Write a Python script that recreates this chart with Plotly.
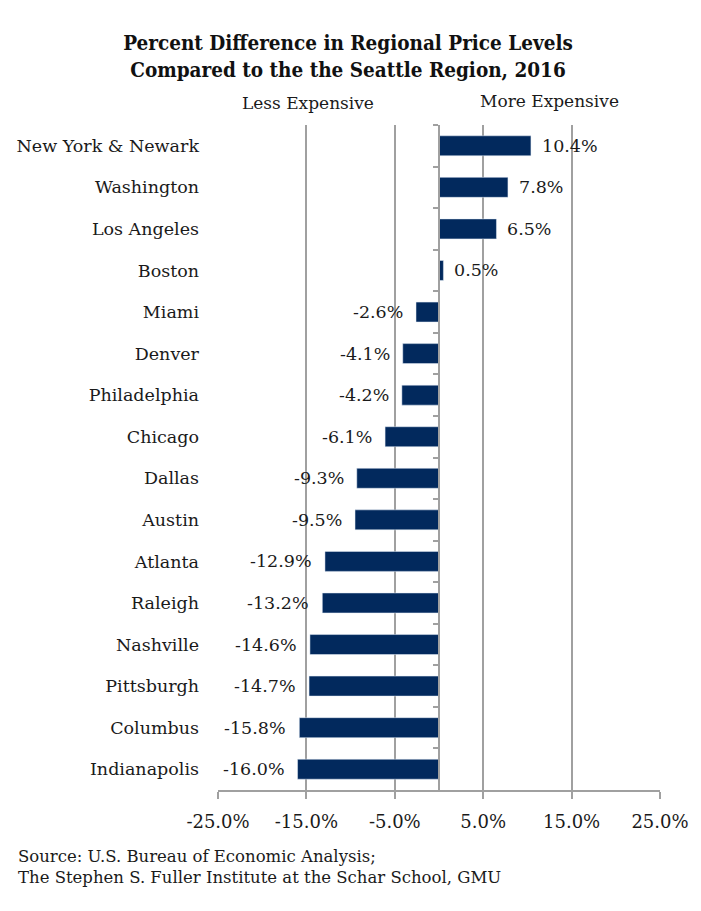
import plotly.graph_objects as go

# ================== DATA ==================
regions = ["New York & Newark", "Washington", "Los Angeles", "Boston", "Miami",
           "Denver", "Philadelphia", "Chicago", "Dallas", "Austin", "Atlanta",
           "Raleigh", "Nashville", "Pittsburgh", "Columbus", "Indianapolis"]
pct_diff = [10.4, 7.8, 6.5, 0.5, -2.6, -4.1, -4.2, -6.1, -9.3, -9.5, -12.9,
            -13.2, -14.6, -14.7, -15.8, -16.0]
tick_vals = [-25, -15, -5, 5, 15, 25]
tick_text = ["-25.0%", "-15.0%", "-5.0%", "5.0%", "15.0%", "25.0%"]

# ================== STYLE ==================
# page has an 8px body margin, so the figure is drawn 8px smaller each side
W, H = 685, 895
L, R, T, B = 210, 33, 117, 113
PW, PH = W - L - R, H - T - B
bar_color = "#02295d"
grid = "#a0a0a0"
serif = "DejaVu Serif"
txt = "#1a1a1a"

fig = go.Figure()

fig.add_trace(go.Bar(
    x=pct_diff, y=regions, orientation="h",
    marker=dict(color=bar_color, line=dict(width=0)),
    hoverinfo="x+y", showlegend=False,
))

# invisible copy that carries the centre category axis (ticks between bars)
fig.add_trace(go.Bar(
    x=pct_diff, y=regions, orientation="h", yaxis="y2",
    marker=dict(color="rgba(0,0,0,0)"), hoverinfo="skip", showlegend=False,
))

# value labels next to bar ends
for r, v in zip(regions, pct_diff):
    fig.add_annotation(
        x=v, y=r, text=f"{v:.1f}%", showarrow=False,
        xanchor="left" if v >= 0 else "right",
        xshift=9 if v >= 0 else -11,
        font=dict(family=serif, size=17.5, color=txt),
    )

# side headers
fig.add_annotation(x=0.204, y=1, xref="paper", yref="paper",
                   xanchor="center", yanchor="middle", yshift=22,
                   text="Less Expensive", showarrow=False,
                   font=dict(family=serif, size=17, color=txt))
fig.add_annotation(x=0.749, y=1, xref="paper", yref="paper",
                   xanchor="center", yanchor="middle", yshift=24,
                   text="More Expensive", showarrow=False,
                   font=dict(family=serif, size=17, color=txt))

# source
fig.add_annotation(
    x=(8 - L) / PW, y=-(837 - (H - B)) / PH,
    xref="paper", yref="paper", xanchor="left", yanchor="top", align="left",
    text="Source: U.S. Bureau of Economic Analysis;<br>"
         "The Stephen S. Fuller Institute at the Schar School, GMU",
    showarrow=False, font=dict(family=serif, size=16.5, color=txt),
)

fig.update_layout(
    width=W, height=H,
    margin=dict(l=L, r=R, t=T, b=B, autoexpand=False),
    paper_bgcolor="white", plot_bgcolor="white",
    bargap=0.52, barmode="overlay",
    title=dict(
        text="<b>Percent Difference in Regional Price Levels<br>"
             "Compared to the the Seattle Region, 2016</b>",
        x=340 / W, xanchor="center", y=1 - 42 / H, yanchor="top",
        font=dict(family="DejaVu Serif Condensed", size=20.5, color="#111111"),
    ),
    xaxis=dict(
        range=[-25, 25], tickvals=tick_vals, ticktext=tick_text,
        showgrid=True, gridcolor=grid, gridwidth=2, zeroline=False,
        showline=True, linecolor=grid, linewidth=1.5,
        ticks="outside", ticklen=7, tickcolor=grid, tickwidth=1.5,
        ticklabelstandoff=8,
        tickfont=dict(family=serif, size=18, color=txt),
        fixedrange=True,
    ),
    yaxis=dict(
        type="category", categoryorder="array", categoryarray=regions,
        autorange="reversed", showgrid=False, zeroline=False,
        showline=False, ticks="", ticklabelstandoff=18,
        tickfont=dict(family=serif, size=17.5, color=txt),
    ),
    yaxis2=dict(
        type="category", categoryorder="array", categoryarray=regions,
        autorange="reversed", overlaying="y", anchor="free", position=0.5,
        side="left", showticklabels=False, showgrid=False, zeroline=False,
        showline=True, linecolor=grid, linewidth=1.5,
        ticks="outside", tickson="boundaries", ticklen=5,
        tickcolor=grid, tickwidth=1.5,
    ),
)

fig.write_html("out.html")
